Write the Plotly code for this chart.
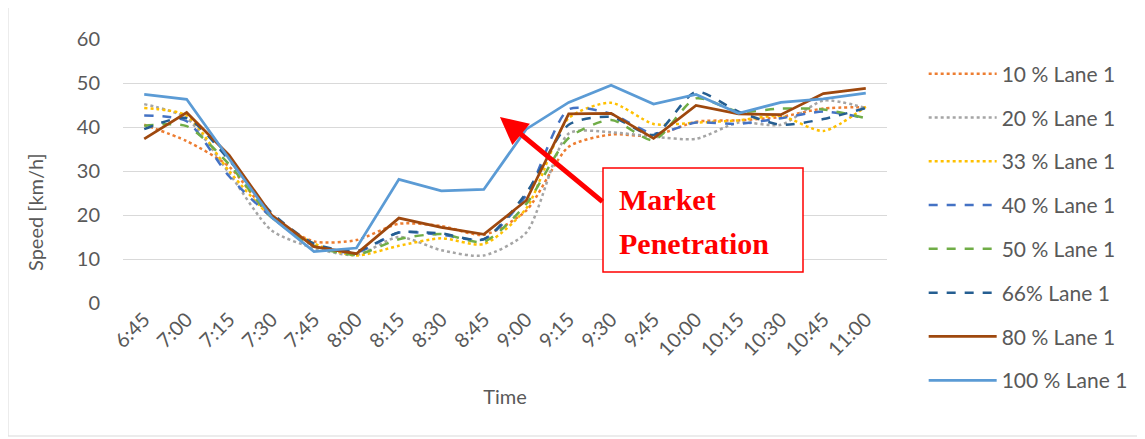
import plotly.graph_objects as go

times = ["6:45", "7:00", "7:15", "7:30", "7:45", "8:00", "8:15", "8:30", "8:45",
         "9:00", "9:15", "9:30", "9:45", "10:00", "10:15", "10:30", "10:45", "11:00"]

p10 = [40.5, 36.8, 31.0, 19.5, 14.0, 14.3, 18.0, 17.5, 15.5, 21.0, 35.5, 38.3, 38.0, 41.2, 41.5, 42.3, 44.2, 44.5]
p20 = [45.2, 42.0, 29.5, 16.5, 12.5, 10.9, 15.0, 12.0, 10.8, 16.0, 38.5, 38.8, 37.8, 37.3, 41.0, 40.5, 46.0, 44.3]
p33 = [44.3, 42.6, 30.0, 19.5, 13.5, 10.8, 13.0, 14.7, 13.4, 21.5, 42.0, 45.5, 40.7, 41.0, 41.5, 42.5, 39.1, 44.6]
p40 = [42.6, 41.3, 28.8, 19.5, 13.0, 11.5, 16.0, 15.5, 14.5, 24.5, 44.0, 43.0, 38.5, 41.0, 40.7, 42.0, 43.5, 42.0]
p50 = [40.3, 40.2, 31.5, 19.5, 13.0, 11.0, 14.5, 15.7, 13.9, 22.5, 37.5, 41.6, 37.0, 46.5, 43.5, 44.2, 44.0, 42.0]
p66 = [39.5, 42.0, 32.5, 20.5, 13.5, 11.8, 16.0, 15.8, 14.5, 25.0, 40.5, 42.3, 38.2, 48.0, 43.5, 40.5, 41.8, 44.3]
p80 = [37.3, 43.3, 33.6, 20.0, 12.8, 11.2, 19.3, 17.2, 15.6, 23.3, 43.0, 43.1, 37.4, 44.9, 43.0, 42.8, 47.6, 48.8]
p100 = [47.4, 46.3, 32.8, 19.5, 11.7, 12.5, 28.1, 25.5, 25.8, 39.5, 45.6, 49.5, 45.2, 47.4, 43.1, 45.6, 46.4, 47.7]

series = [
    ("10 % Lane 1", p10, "#ED7D31", "dot", 2.5, "spline"),
    ("20 % Lane 1", p20, "#A5A5A5", "dot", 2.5, "spline"),
    ("33 % Lane 1", p33, "#FFC000", "dot", 2.5, "spline"),
    ("40 % Lane 1", p40, "#4472C4", "dash", 2.5, "spline"),
    ("50 % Lane 1", p50, "#70AD47", "dash", 2.5, "spline"),
    ("66% Lane 1", p66, "#255E91", "dash", 2.5, "spline"),
    ("80 % Lane 1", p80, "#9E480E", "solid", 2.75, "linear"),
    ("100 % Lane 1", p100, "#5B9BD5", "solid", 2.75, "linear"),
]

fig = go.Figure()
for i, (name, vals, color, dash, w, shape) in enumerate(series):
    fig.add_trace(go.Scatter(
        x=times, y=vals, name=name, mode="lines",
        line=dict(color=color, width=w, dash=dash, shape=shape,
                  smoothing=0.7 if shape == "spline" else None),
        legendgroup=f"g{i}",
    ))

font_main = "Lato, 'Open Sans', sans-serif"
FS = 20
GREY = "#595959"

# page body has an 8px margin; the layout is sized so the plot area lands at
# screen x 123..887, y 39..303
fig.update_layout(
    width=1137, height=431,
    margin=dict(l=115, r=258, t=31, b=136),
    paper_bgcolor="white", plot_bgcolor="white",
    font=dict(family=font_main, size=FS, color=GREY),
    showlegend=True,
    legend=dict(x=1.048, y=0.945, xanchor="left", yanchor="top",
                font=dict(size=21, color=GREY), maxheight=420,
                itemwidth=68,
                tracegroupgap=13.5, bgcolor="rgba(0,0,0,0)"),
    xaxis=dict(type="category", range=[-0.5, 17.5], tickangle=-45, showgrid=False,
               showline=False, zeroline=False, ticks="",
               tickfont=dict(size=FS, color=GREY),
               title=dict(text="Time", font=dict(size=FS, color=GREY), standoff=30)),
    yaxis=dict(range=[0, 60], dtick=10, showgrid=True, gridcolor="#D9D9D9",
               gridwidth=1, zeroline=False, showline=False, ticks="",
               ticklabelstandoff=22, tickfont=dict(size=FS, color=GREY)),
)

# y-axis title
fig.add_annotation(text="Speed [km/h]", xref="paper", yref="paper",
                   x=(35 - 123) / 764, y=(303 - 212) / 264, textangle=-90,
                   xanchor="center", yanchor="middle",
                   showarrow=False, font=dict(size=FS, color=GREY))

# outer chart border
fig.add_shape(type="rect", xref="paper", yref="paper",
              x0=(8 - 123) / 764, x1=(1140 - 123) / 764,
              y0=(303 - 436) / 264, y1=(303 - 1) / 264,
              line=dict(color="#D9D9D9", width=1), fillcolor="rgba(0,0,0,0)", layer="below")

# annotation box
fig.add_shape(type="rect", xref="paper", yref="paper",
              x0=(603 - 123) / 764, x1=(803 - 123) / 764,
              y0=(303 - 272) / 264, y1=(303 - 168) / 264,
              line=dict(color="#FF0000", width=1.5), fillcolor="white")
fig.add_annotation(text="<b>Market</b>", xref="paper", yref="paper",
                   x=(617 - 123) / 764, y=(303 - 199) / 264, xanchor="left", yanchor="middle",
                   showarrow=False, font=dict(family="Liberation Serif", size=30, color="#FF0000"))
fig.add_annotation(text="<b>Penetration</b>", xref="paper", yref="paper",
                   x=(617 - 123) / 764, y=(303 - 243) / 264, xanchor="left", yanchor="middle",
                   showarrow=False, font=dict(family="Liberation Serif", size=30, color="#FF0000"))

# arrow
fig.add_annotation(x=8.38, y=42.3, xref="x", yref="y", ax=104, ay=86,
                   axref="pixel", ayref="pixel", text="", showarrow=True,
                   arrowhead=2, arrowsize=1.1, arrowwidth=5, arrowcolor="#FF0000")

fig.write_html("out.html")
